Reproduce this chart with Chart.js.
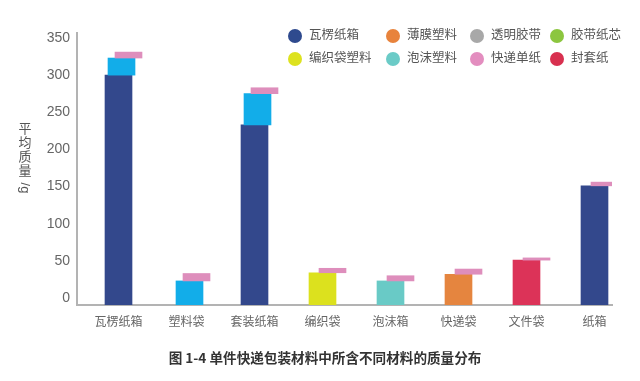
<!DOCTYPE html>
<html>
<head>
<meta charset="utf-8">
<script src="https://cdn.jsdelivr.net/npm/chart.js@4/dist/chart.umd.min.js"></script>
<style>
  html, body { margin: 0; padding: 0; background: #fff; }
  #wrap { position: relative; width: 640px; height: 381px; overflow: hidden;
          font-family: 'Liberation Sans', 'Noto Sans CJK SC', sans-serif; }
  #c { position: absolute; left: 0; top: 0; }
  .lg { position: absolute; font-size: 12.5px; color: #555; line-height: 14px; white-space: nowrap; }
  .dot { position: absolute; width: 14px; height: 14px; border-radius: 50%; }
  #ytitle { position: absolute; left: 17px; top: 121px; width: 16px; text-align: center;
            font-size: 13px; line-height: 14px; color: #555; font-family: 'Noto Sans CJK SC', sans-serif; }
  #ytitle span { display: block; }
  #ytitle .rot { display: block; transform: rotate(90deg); transform-origin: 50% 50%;
                 width: 16px; height: 16px; line-height: 16px; margin-top: 3px; font-family: 'Liberation Sans', sans-serif; }
  #caption { position: absolute; left: 0; width: 650px; top: 347px; text-align: center;
             font-size: 13.6px; font-weight: bold; color: #333; font-family: 'Noto Sans CJK SC', sans-serif; }
</style>
</head>
<body>
<div id="wrap">
  <canvas id="c" width="640" height="381"></canvas>
  <div id="ytitle"><span>平</span><span>均</span><span>质</span><span>量</span><span class="rot">/g</span></div>
  <div id="legend"></div>
  <div id="caption">图 1-4 单件快递包装材料中所含不同材料的质量分布</div>
</div>
<script>
// ---- data ----
const categories = ['瓦楞纸箱', '塑料袋', '套装纸箱', '编织袋', '泡沫箱', '快递袋', '文件袋', '纸箱'];
const yTickValues = [0, 50, 100, 150, 200, 250, 300, 350];
const corrugated = [300, 0, 233, 0, 0, 0, 0, 151];   // 瓦楞纸箱 (navy)
const filmBlue   = [23, 23, 42, 0, 0, 0, 0, 0];      // 塑料 (light blue)
const woven      = [0, 0, 0, 34, 0, 0, 0, 0];        // 编织袋塑料
const foam       = [0, 0, 0, 0, 23, 0, 0, 0];        // 泡沫塑料
const filmOrange = [0, 0, 0, 0, 0, 32, 0, 0];        // 薄膜塑料
const envelope   = [0, 0, 0, 0, 0, 0, 51, 0];        // 封套纸
const waybill    = [8, 10, 8, 6, 7, 7, 3, 5];        // 快递单纸
const legendLabels = ['瓦楞纸箱', '薄膜塑料', '透明胶带', '胶带纸芯', '编织袋塑料', '泡沫塑料', '快递单纸', '封套纸'];
const legendColors = ['#2E4A8E', '#E8833C', '#A8A8A8', '#8CC63F', '#DDE21F', '#6BCBC7', '#E38DBF', '#D8304F'];

// ---- styling ----
const FLOOR = -9.4;   // axis line sits slightly below the 0 tick
const layers = [
  { name: '瓦楞纸箱', values: corrugated, color: '#33488C', axis: 'x' },
  { name: '塑料', values: filmBlue, color: '#12ADE9', axis: 'xs' },
  { name: '编织袋塑料', values: woven, color: '#DCE11E', axis: 'x' },
  { name: '泡沫塑料', values: foam, color: '#69CAC6', axis: 'x' },
  { name: '薄膜塑料', values: filmOrange, color: '#E5853F', axis: 'x' },
  { name: '封套纸', values: envelope, color: '#DC3358', axis: 'x' },
  { name: '快递单纸', values: waybill, color: '#DE8EBC', axis: 'xp' }
];

const totals = categories.map(() => 0);
const datasets = layers.map(l => {
  const pts = [];
  l.values.forEach((v, i) => {
    if (v > 0) {
      const start = totals[i] === 0 ? FLOOR : totals[i];
      totals[i] += v;
      pts.push({ x: i, y: [start, totals[i]] });
    }
  });
  return { label: l.name, data: pts, backgroundColor: l.color, xAxisID: l.axis,
           barThickness: 27, grouped: false, borderWidth: 0 };
}).reverse();

// legend (HTML)
const colX = [295, 393, 477, 557];
const rowY = [36, 59];
const lg = document.getElementById('legend');
legendLabels.forEach((t, k) => {
  const cx = colX[k % 4], cy = rowY[Math.floor(k / 4)];
  const d = document.createElement('div');
  d.className = 'dot'; d.style.left = (cx - 7) + 'px'; d.style.top = (cy - 7) + 'px';
  d.style.background = legendColors[k];
  const s = document.createElement('div');
  s.className = 'lg'; s.textContent = t; s.style.left = (cx + 14) + 'px'; s.style.top = (cy - 8) + 'px';
  lg.appendChild(d); lg.appendChild(s);
});

const PX_PER_CAT = 68, AREA_W = 535, FIRST = 41.5;
const xmin = -FIRST / PX_PER_CAT, xmax = xmin + AREA_W / PX_PER_CAT;
const shifted = px => ({ type: 'linear', display: false, offset: false, bounds: 'data',
  min: xmin - px / PX_PER_CAT, max: xmax - px / PX_PER_CAT });

new Chart(document.getElementById('c'), {
  type: 'bar',
  data: { datasets },
  options: {
    responsive: false,
    animation: false,
    layout: { padding: { left: 0, right: 28, top: 33, bottom: 0 } },
    plugins: { legend: { display: false }, tooltip: { enabled: false } },
    scales: {
      x: {
        type: 'linear', min: xmin, max: xmax, offset: false, bounds: 'data',
        grid: { display: false, drawTicks: false, offset: false },
        border: { display: true, color: '#B3B3B3', width: 2 },
        afterBuildTicks: s => { s.ticks = categories.map((_, i) => ({ value: i })); },
        afterFit: s => { s.height = 76; },
        ticks: {
          callback: v => categories[v] ?? '',
          autoSkip: false, maxRotation: 0, padding: 9,
          color: '#666', font: { family: "'Noto Sans CJK SC', sans-serif", size: 12 }
        }
      },
      xs: shifted(3),
      xp: shifted(10),
      y: {
        min: FLOOR, max: 356.7,
        grid: { display: false, drawTicks: false },
        border: { display: true, color: '#B3B3B3', width: 2 },
        afterBuildTicks: s => { s.ticks = yTickValues.map(v => ({ value: v })); },
        afterFit: s => { s.width = 77; },
        ticks: {
          padding: 7, color: '#666',
          font: { family: "'Liberation Sans', Arial, sans-serif", size: 14 }
        }
      }
    }
  }
});
</script>
</body>
</html>
